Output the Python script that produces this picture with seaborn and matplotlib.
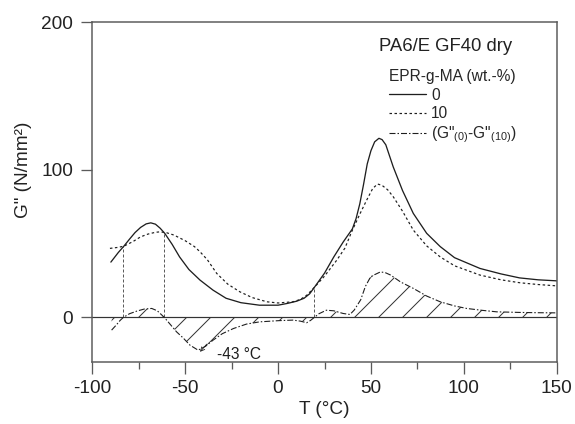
import numpy as np
import pandas as pd
import matplotlib
matplotlib.use('Agg')
import matplotlib.pyplot as plt
import seaborn as sns

# G'' of PA6/E GF40 dry
T_0 = [-90, -86, -83, -80, -77, -74, -71, -68.5, -66, -63.5, -61, -57, -53, -48, -42, -35, -28, -20, -10, 0,
       5, 10, 14, 17, 19.5, 25, 30, 35, 40, 42, 44, 46, 48, 50, 52, 54.3, 56, 58, 62, 67, 72.8, 80, 87.3,
       95, 108.7, 120, 130, 140, 150]
G_0 = [37.5, 44, 48.3, 53, 57.5, 61, 63.4, 64.1, 63.2, 60.5, 57, 49.5, 41, 32.5, 25.3, 18.5, 13, 10, 8.3,
       8.3, 9.5, 11, 13, 16, 20.3, 30, 41, 51, 60, 67, 77, 90, 104, 113, 119, 121.4, 120.5, 117, 102, 86,
       70.5, 57, 48, 40.5, 33.2, 29.5, 26.8, 25.5, 24.8]

T_10 = [-90.5, -86, -83, -78, -74, -70, -66, -63.6, -60, -56, -50, -45, -42, -38, -33, -27, -20.6, -14, -6,
        0, 8, 12, 15.4, 19.5, 25, 31.6, 36, 39.6, 44, 47.7, 51, 53.6, 56, 59, 62, 67, 72.8, 80, 87.3, 95,
        108.7, 120, 130.2, 140, 150]
G_10 = [46.8, 47.5, 48.3, 51.5, 54.6, 56.5, 57.7, 58, 57.4, 55.8, 52, 48, 44.5, 39, 29.8, 22.5, 17.4, 13.5,
        10.6, 9.8, 10.6, 12.2, 15, 20.3, 28, 38.8, 47, 58, 70, 79.5, 87.5, 90.4, 89.5, 86.5, 81.8, 72, 59.2,
        48.5, 41, 35, 28.7, 25.5, 23.5, 22.3, 21.4]

T_diff = [-89.6, -87, -85, -83.3, -80, -76, -72, -68, -65, -61.2, -57.5, -54.6, -51, -47.4, -43, -39, -35,
          -30, -24, -17, -10, 0, 8, 12, 15.4, 17.5, 19.5, 22, 26, 30, 35, 38.7, 41, 44.5, 47, 49.8, 52,
          55.2, 58, 60.6, 66, 72.8, 80, 87.3, 95, 101.5, 110, 117.7, 130, 140, 150]
G_diff = [-8.6, -5, -2, 0, 2.5, 4.3, 5.7, 6.1, 4.5, 0, -5.5, -9.8, -14, -18.8, -22.2, -19.5, -15.4, -11,
          -7.5, -4.5, -3, -2.2, -1.8, -2.5, -3.6, -2, 0, 2.5, 4.9, 4.5, 2.7, 2.0, 5, 12, 21, 27.5, 29, 30.9,
          30.2, 28.7, 24, 19.7, 14.5, 10.6, 7.8, 6.1, 4.8, 3.8, 3.4, 3.2, 3.1]

# crossings of the two curves (dashed guide lines)
cross_T = [-83.3, -61.2, 19.5]
cross_G = [48.3, 57, 20.3]
min_T, min_G = -43, -22.2

sns.set_style('ticks')
plt.rcParams['font.family'] = ['Liberation Sans', 'DejaVu Sans']
plt.rcParams['mathtext.fontset'] = 'custom'
plt.rcParams['mathtext.rm'] = 'Liberation Sans'
plt.rcParams['mathtext.it'] = 'Liberation Sans:italic'
plt.rcParams['axes.unicode_minus'] = False
plt.rcParams['lines.scale_dashes'] = False
plt.rcParams['hatch.linewidth'] = 1.0

spine_col = '#5a5a5a'
ink = '#1e1e1e'

fig = plt.figure(figsize=(575 / 72, 424 / 72), dpi=72)
ax = fig.add_axes([0.1605, 0.1469, 0.8077, 0.8005])

ax.axhline(0, color='#333333', lw=1.2, zorder=1)
ax.fill_between(T_diff, G_diff, 0, facecolor='none', edgecolor='#333333', linewidth=0, hatch='/')
ax.vlines(cross_T, 0, cross_G, colors='#333333', linestyles=(0, (3, 2)), lw=0.8)

sns.lineplot(x=T_0, y=G_0, ax=ax, color=ink, lw=1.3, sort=False)
sns.lineplot(x=T_10, y=G_10, ax=ax, color=ink, lw=1.2, linestyle=(0, (2.5, 2.5)), sort=False)
sns.lineplot(x=T_diff, y=G_diff, ax=ax, color=ink, lw=1.1, linestyle=(0, (6, 2, 1.5, 2)), sort=False)

ax.annotate('', xy=(min_T + 1, min_G - 1.1), xytext=(min_T + 4.6, min_G + 4.1),
            arrowprops=dict(arrowstyle='->', lw=0.8, color=ink, shrinkA=0, shrinkB=0))
ax.text(min_T + 10, min_G - 3.2, '-43 °C', fontsize=15.5, va='center', ha='left', color=ink)

ax.set_xlim(-100, 150)
ax.set_ylim(-30, 200)
ax.set_xticks([-100, -50, 0, 50, 100, 150])
ax.set_xticks([-75, -25, 25, 75, 125], minor=True)
ax.set_yticks([0, 100, 200])
ax.tick_params(axis='both', which='major', direction='out', length=11.5, width=1.3, color=spine_col,
               labelsize=19, labelcolor='#222222')
ax.tick_params(axis='x', which='major', pad=6.4)
ax.tick_params(axis='y', which='major', pad=7.5)
ax.tick_params(axis='x', which='minor', direction='out', length=6.6, width=1.3, color=spine_col)
for s in ax.spines.values():
    s.set_visible(True)
    s.set_color(spine_col)
    s.set_linewidth(1.5)

ax.set_xlabel('T (°C)', fontsize=19, color='#222222')
ax.set_ylabel('G" (N/mm²)', fontsize=19, color='#222222')
ax.xaxis.set_label_coords(0.5, -0.115)
ax.yaxis.set_label_coords(-0.129, 0.565)

ax.text(0.617, 0.928, 'PA6/E GF40 dry', transform=ax.transAxes, fontsize=18.5, ha='left', va='center',
        color='#222222')
handles = ax.get_lines()[-3:]
labels = ['0', '10', '(G"$_{(0)}$-G"$_{(10)}$)']
ax.legend(handles, labels, title='EPR-g-MA (wt.-%)', loc='upper left', bbox_to_anchor=(0.639, 0.862),
          frameon=False, fontsize=15.5, title_fontsize=15.5, handlelength=2.4, handletextpad=0.3,
          labelspacing=0.22, borderpad=0, borderaxespad=0, alignment='left')

fig.savefig('out.png', dpi=72)
